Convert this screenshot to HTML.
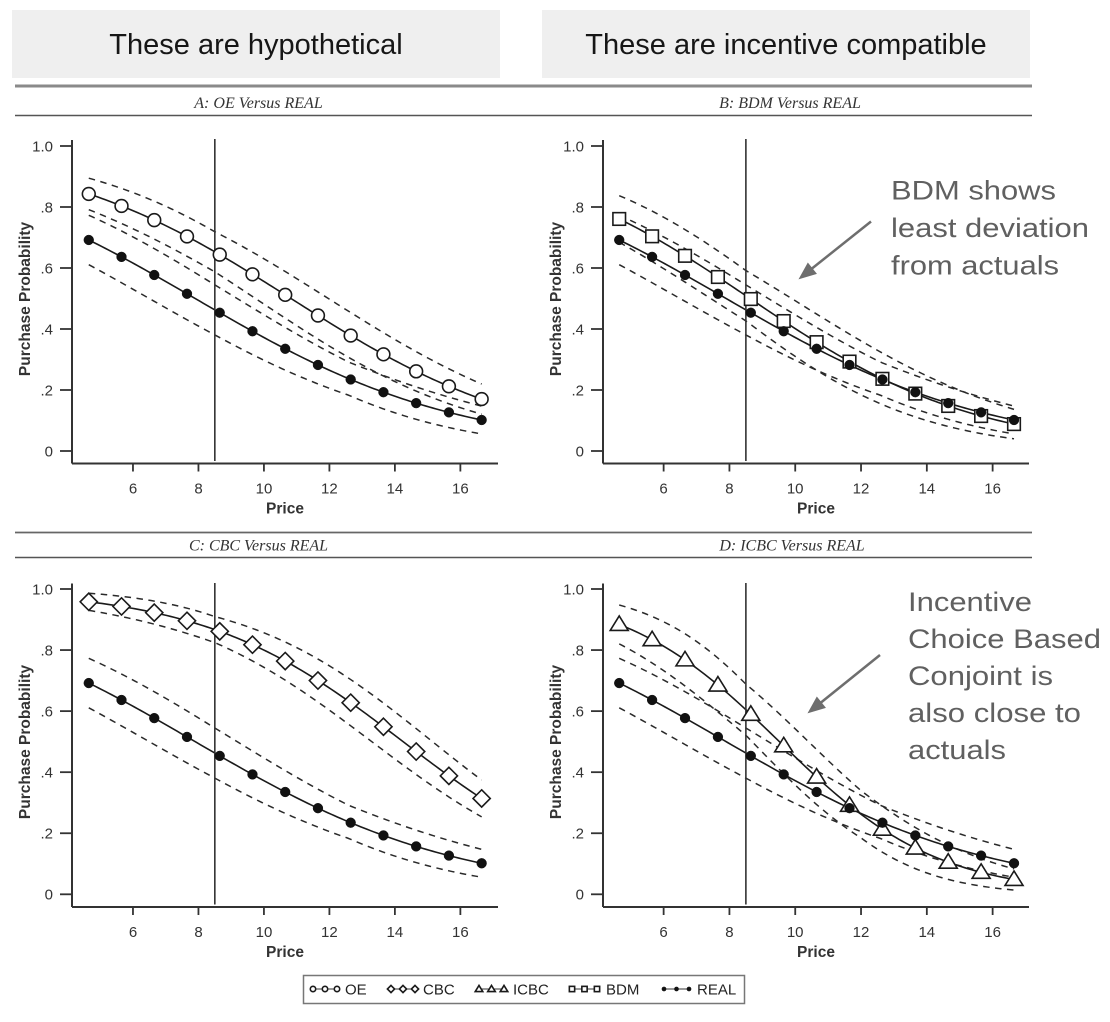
<!DOCTYPE html>
<html><head><meta charset="utf-8">
<style>
html,body{margin:0;padding:0;background:#fff;}
svg{display:block;}
</style></head>
<body>
<svg id="s" width="1110" height="1022" viewBox="0 0 1110 1022" xmlns="http://www.w3.org/2000/svg" font-family="'Liberation Sans', Arial, sans-serif">
<rect x="0" y="0" width="1110" height="1022" fill="#fff"/>
<rect x="12" y="10" width="488" height="68" fill="#efefef"/>
<rect x="542" y="10" width="488" height="68" fill="#efefef"/>
<text x="256" y="54" font-size="29" text-anchor="middle" fill="#161616">These are hypothetical</text>
<text x="786" y="54" font-size="29" text-anchor="middle" fill="#161616">These are incentive compatible</text>

<rect x="15" y="84.5" width="1017" height="3" fill="#8a8a8a"/>
<line x1="15" y1="115.5" x2="1032" y2="115.5" stroke="#555" stroke-width="1.6"/>
<line x1="15" y1="532.5" x2="1032" y2="532.5" stroke="#666" stroke-width="1.8"/>
<line x1="15" y1="557.5" x2="1032" y2="557.5" stroke="#555" stroke-width="1.6"/>

<g font-family="'Liberation Serif', serif" font-style="italic" font-size="16" fill="#333" text-anchor="middle">
<text x="258.5" y="108">A: OE Versus REAL</text>
<text x="790" y="108">B: BDM Versus REAL</text>
<text x="258.5" y="550.5">C: CBC Versus REAL</text>
<text x="792" y="550.5">D: ICBC Versus REAL</text>
</g>

<g id="plots"></g>

<g font-size="15" fill="#333" text-anchor="end">
<text x="53" y="151.3">1.0</text><text x="53" y="212.3">.8</text><text x="53" y="273.3">.6</text><text x="53" y="334.3">.4</text><text x="53" y="395.3">.2</text><text x="53" y="456.3">0</text>
<text x="584" y="151.3">1.0</text><text x="584" y="212.3">.8</text><text x="584" y="273.3">.6</text><text x="584" y="334.3">.4</text><text x="584" y="395.3">.2</text><text x="584" y="456.3">0</text>
<text x="53" y="594.3">1.0</text><text x="53" y="655.4">.8</text><text x="53" y="716.4">.6</text><text x="53" y="777.5">.4</text><text x="53" y="838.5">.2</text><text x="53" y="899.6">0</text>
<text x="584" y="594.3">1.0</text><text x="584" y="655.4">.8</text><text x="584" y="716.4">.6</text><text x="584" y="777.5">.4</text><text x="584" y="838.5">.2</text><text x="584" y="899.6">0</text>
</g>
<g font-size="15" fill="#333" text-anchor="middle">
<text x="133" y="493.3">6</text><text x="198.5" y="493.3">8</text><text x="264" y="493.3">10</text><text x="329.4" y="493.3">12</text><text x="394.9" y="493.3">14</text><text x="460.4" y="493.3">16</text>
<text x="663.6" y="493.3">6</text><text x="729.4" y="493.3">8</text><text x="795.2" y="493.3">10</text><text x="861" y="493.3">12</text><text x="926.8" y="493.3">14</text><text x="992.6" y="493.3">16</text>
<text x="133" y="936.8">6</text><text x="198.5" y="936.8">8</text><text x="264" y="936.8">10</text><text x="329.4" y="936.8">12</text><text x="394.9" y="936.8">14</text><text x="460.4" y="936.8">16</text>
<text x="663.6" y="936.8">6</text><text x="729.4" y="936.8">8</text><text x="795.2" y="936.8">10</text><text x="861" y="936.8">12</text><text x="926.8" y="936.8">14</text><text x="992.6" y="936.8">16</text>
</g>
<g font-size="15.5" font-weight="bold" fill="#333" text-anchor="middle">
<text x="285" y="513.3">Price</text>
<text x="816" y="513.3">Price</text>
<text x="285" y="956.8">Price</text>
<text x="816" y="956.8">Price</text>
<text transform="translate(30,299) rotate(-90)">Purchase Probability</text>
<text transform="translate(561,299) rotate(-90)">Purchase Probability</text>
<text transform="translate(30,742) rotate(-90)">Purchase Probability</text>
<text transform="translate(561,742) rotate(-90)">Purchase Probability</text>
</g>

<g font-size="26.5" fill="#606060">
<text x="891" y="199.5" textLength="165" lengthAdjust="spacingAndGlyphs">BDM shows</text>
<text x="891" y="237" textLength="198" lengthAdjust="spacingAndGlyphs">least deviation</text>
<text x="891" y="274.5" textLength="168" lengthAdjust="spacingAndGlyphs">from actuals</text>
<text x="908" y="611" textLength="124" lengthAdjust="spacingAndGlyphs">Incentive</text>
<text x="908" y="648" textLength="193" lengthAdjust="spacingAndGlyphs">Choice Based</text>
<text x="908" y="685" textLength="145" lengthAdjust="spacingAndGlyphs">Conjoint is</text>
<text x="908" y="722" textLength="173" lengthAdjust="spacingAndGlyphs">also close to</text>
<text x="908" y="759" textLength="98" lengthAdjust="spacingAndGlyphs">actuals</text>
</g>
<g stroke="#6e6e6e" stroke-width="2.5" fill="#6e6e6e">
<line x1="871" y1="221.5" x2="812" y2="268.5"/>
<polygon points="799.5,278.5 816.1,273.6 807.9,263.4" stroke-width="1"/>
<line x1="880" y1="655" x2="821" y2="702.5"/>
<polygon points="808.5,712.5 825.1,707.6 816.9,697.4" stroke-width="1"/>
</g>

<rect x="303.5" y="975.5" width="441" height="28" fill="none" stroke="#777" stroke-width="1.5"/>
<g id="leg"></g>
<g font-size="15" fill="#222">
<text x="345" y="994.5">OE</text>
<text x="423" y="994.5">CBC</text>
<text x="513" y="994.5">ICBC</text>
<text x="606" y="994.5">BDM</text>
<text x="697" y="994.5">REAL</text>
</g>
</svg>
<script>
(function(){
var NS="http://www.w3.org/2000/svg";
var G=document.getElementById('plots');
function el(tag,a,par){var e=document.createElementNS(NS,tag);for(var k in a)e.setAttribute(k,a[k]);(par||G).appendChild(e);return e;}
function lg(z){return 1/(1+Math.exp(-z));}
var S={
 REAL:{L0:0.809,s:-0.249,h:[[4.65,0.38],[8.5,0.33],[12.6,0.3],[16.65,0.5]],m:'dot'},
 OE:{L0:1.68,s:-0.272,h:[[4.65,0.39],[8.5,0.29],[16.65,0.35]],m:'circle'},
 BDM:{L0:1.157,s:-0.291,h:[[4.65,0.42],[8.5,0.33],[16.65,0.6]],m:'square'},
 CBC:{L0:3.13,s:-0.326,h:[[4.65,0.7],[8.5,0.37],[16.65,0.28]],m:'diamond'},
 ICBC:{L0:2.03,s:-0.417,h:[[4.65,0.62],[8.5,0.35],[12,0.4],[16.65,0.75]],m:'tri'}
};
var P0=4.65,P1=16.65;
function val(sr,p){return lg(sr.L0+sr.s*(p-P0));}
function hh(sr,p){var a=sr.h;for(var i=0;i<a.length-1;i++){if(p<=a[i+1][0]||i==a.length-2){var t=(p-a[i][0])/(a[i+1][0]-a[i][0]);return a[i][1]+(a[i+1][1]-a[i][1])*t;}}return a[a.length-1][1];}
var panels=[
 {xc:296.67,xs:32.74,y0:451,ys:305,ax:72,top:140,bot:463.5,right:498,vt:139,vb:461,c:'OE'},
 {xc:828.13,xs:32.9,y0:451,ys:305,ax:603,top:140,bot:463.5,right:1029,vt:139,vb:461,c:'BDM'},
 {xc:296.67,xs:32.74,y0:894.3,ys:305.3,ax:72,top:583.5,bot:907,right:498,vt:583,vb:904.5,c:'CBC'},
 {xc:828.13,xs:32.9,y0:894.3,ys:305.3,ax:603,top:583.5,bot:907,right:1029,vt:583,vb:904.5,c:'ICBC'}
];
function marker(type,x,y,sc,par){
 sc=sc||1;
 var st={stroke:'#1a1a1a','stroke-width':1.6,fill:'#fff'};
 function m(o){for(var k in st)if(!(k in o))o[k]=st[k];return o;}
 if(type==='circle')el('circle',m({cx:x,cy:y,r:6.4*sc}),par);
 else if(type==='square')el('rect',m({x:x-6.3*sc,y:y-6.3*sc,width:12.6*sc,height:12.6*sc}),par);
 else if(type==='diamond'){var d=8.6*sc;el('polygon',m({points:x+','+(y-d)+' '+(x+d)+','+y+' '+x+','+(y+d)+' '+(x-d)+','+y}),par);}
 else if(type==='tri'){var w=9*sc;el('polygon',m({points:x+','+(y-8.5*sc)+' '+(x+w)+','+(y+6*sc)+' '+(x-w)+','+(y+6*sc)}),par);}
 else if(type==='dot')el('circle',{cx:x,cy:y,r:4.9*sc,fill:'#111',stroke:'#111','stroke-width':0.5},par);
}
panels.forEach(function(P){
 function X(p){return P.xc+(p-11)*P.xs;}
 function Y(v){return P.y0-v*P.ys;}
 function path(f){var d='';for(var i=0;i<=120;i++){var p=P0+i*0.1;d+=(i?'L':'M')+X(p).toFixed(2)+' '+Y(f(p)).toFixed(2);}return d;}
 el('line',{x1:P.ax,y1:P.top,x2:P.ax,y2:P.bot,stroke:'#333','stroke-width':2});
 el('line',{x1:P.ax,y1:P.bot,x2:P.right,y2:P.bot,stroke:'#333','stroke-width':2});
 [0,0.2,0.4,0.6,0.8,1.0].forEach(function(v){el('line',{x1:P.ax-12,y1:Y(v),x2:P.ax,y2:Y(v),stroke:'#333','stroke-width':1.8});});
 [6,8,10,12,14,16].forEach(function(p){el('line',{x1:X(p),y1:P.bot,x2:X(p),y2:P.bot+8,stroke:'#333','stroke-width':1.8});});
 var comps=[S[P.c],S.REAL];
 comps.forEach(function(sr){
  [1,-1].forEach(function(sg){
   el('path',{d:path(function(p){var v=val(sr,p);return v+sg*v*(1-v)*hh(sr,p);}),fill:'none',stroke:'#2a2a2a','stroke-width':1.5,'stroke-dasharray':'6.5,5.5'});
  });
 });
 comps.forEach(function(sr){el('path',{d:path(function(p){return val(sr,p);}),fill:'none',stroke:'#1a1a1a','stroke-width':1.6});});
 el('line',{x1:X(8.5),y1:P.vt,x2:X(8.5),y2:P.vb,stroke:'#333','stroke-width':1.6});
 comps.forEach(function(sr){
  for(var k=0;k<13;k++){var p=P0+k;marker(sr.m,X(p),Y(val(sr,p)));}
 });
});
var L=document.getElementById('leg');
var items=[['circle',311,339],['diamond',389,417],['tri',477,506],['square',570,599],['dot',662,691]];
items.forEach(function(it){
 el('line',{x1:it[1],y1:989,x2:it[2],y2:989,stroke:'#333','stroke-width':1},L);
 var mid=(it[1]+it[2])/2;
 [it[1]+2,mid,it[2]-2].forEach(function(x){marker(it[0],x,989,0.42,L);});
});
})();
</script>
</body></html>
